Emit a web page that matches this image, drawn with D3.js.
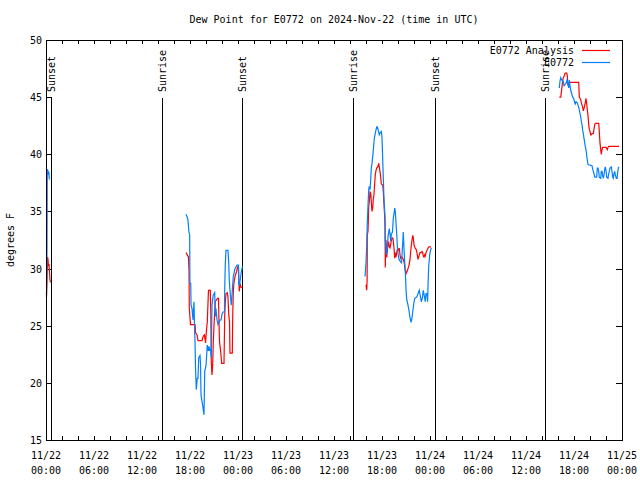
<!DOCTYPE html>
<html><head><meta charset="utf-8">
<script src="https://cdn.jsdelivr.net/npm/d3@7"></script>
<style>body{margin:0;background:#fff}svg{display:block}text{font-family:"DejaVu Sans Mono",monospace;font-size:10px;fill:#000}</style>
</head><body><svg id="c" width="640" height="480"></svg>
<script>
const title = "Dew Point for E0772 on 2024-Nov-22 (time in UTC)";
const yLabel = "degrees F";
const seriesNames = ["E0772 Analysis", "E0772"];
const seriesColors = ["#ff0000", "#0080ff"];
const startTime = "2024-11-22T00:00:00Z";
const endTime = "2024-11-25T00:00:00Z";
const yTicks = [15, 20, 25, 30, 35, 40, 45, 50];
const sunHours = [0.63, 14.54, 24.54, 38.41, 48.6, 62.41];
const sunLabels = ["Sunset", "Sunrise", "Sunset", "Sunrise", "Sunset", "Sunrise"];

// hours after 2024-11-22 00:00 UTC
const analysisHours = [0.06,0.13,0.19,0.25,0.31,0.38,0.44,0.5,0.56,
17.5,17.66,17.81,17.88,17.91,18.06,18.63,18.69,18.88,19.0,19.5,19.66,19.81,19.94,20.06,20.16,20.31,20.54,20.6,20.66,20.75,20.84,20.91,21.0,21.16,21.44,21.56,21.63,21.69,21.84,21.96,22.25,22.34,22.41,22.5,22.66,22.75,22.84,22.94,23.0,23.29,23.34,23.41,23.5,23.66,23.81,23.94,24.06,24.16,24.25,24.34,24.56,
40.0,40.09,40.14,40.16,40.25,40.34,40.41,40.5,40.59,40.66,40.75,40.84,40.91,41.0,41.09,41.16,41.25,41.34,41.46,41.59,41.66,41.75,41.84,41.91,42.09,42.16,42.25,42.34,42.38,42.41,42.5,42.59,42.66,42.75,42.84,42.91,43.0,43.13,43.25,43.38,43.5,43.59,43.66,43.75,43.88,44.0,44.09,44.16,44.25,44.34,44.41,44.5,44.59,44.66,44.75,44.84,44.91,45.04,45.16,45.25,45.38,45.5,45.59,45.66,45.75,45.84,45.91,46.0,46.13,46.25,46.34,46.41,46.5,46.59,46.66,46.75,46.88,47.0,47.09,47.16,47.25,47.34,47.41,47.5,47.63,47.75,47.88,48.13,
64.16,64.34,64.41,64.5,64.59,64.66,64.75,64.84,64.91,65.09,65.16,65.25,65.34,65.41,66.59,66.66,66.75,66.84,66.91,67.0,67.09,67.16,67.25,67.34,67.41,67.5,67.59,67.66,67.75,67.84,67.91,68.0,68.09,68.16,68.25,68.41,68.5,68.59,68.66,69.09,69.16,69.25,69.34,69.41,69.5,69.59,70.0,70.09,70.16,70.25,70.34,71.63];
const analysisDew = [27.5,29.0,31.0,30.8,30.2,30.4,29.6,29.0,28.8,
31.4,31.2,31.0,29.7,26.6,25.1,25.1,24.4,24.2,23.7,23.7,24.1,24.2,23.5,24.6,25.3,28.1,28.1,26.2,21.8,20.7,21.7,23.6,25.0,27.1,27.4,27.4,25.1,23.6,22.7,21.7,21.7,25.9,27.1,27.8,27.9,27.5,26.0,25.3,22.6,22.6,25.9,27.9,28.8,29.4,29.7,30.1,30.0,28.0,28.7,28.4,28.3,
28.6,28.1,29.0,32.9,33.3,35.4,35.8,36.7,36.6,35.9,35.0,35.3,36.1,36.5,37.5,38.2,38.6,38.8,38.9,39.2,38.9,38.5,38.0,37.4,37.3,36.8,35.6,34.5,33.6,30.1,32.5,31.0,31.5,32.2,32.3,31.9,31.8,32.3,32.7,32.6,31.8,30.9,31.4,31.0,31.6,31.7,31.6,31.8,31.2,30.9,31.0,31.0,30.9,30.8,30.6,30.2,29.8,29.6,29.8,30.0,30.3,30.8,31.5,32.0,32.5,32.9,32.7,32.1,31.8,31.7,31.5,31.2,30.8,31.0,31.2,31.4,31.4,31.5,31.4,31.1,31.0,31.2,31.1,31.4,31.6,31.8,31.9,31.9,
45.0,45.0,45.4,45.9,46.5,46.7,46.8,47.0,47.1,47.1,46.9,46.0,46.2,46.3,46.3,45.0,44.9,44.8,44.5,44.3,44.1,43.8,44.0,44.3,44.5,44.9,44.4,43.9,43.4,42.6,42.2,42.0,41.7,41.7,41.8,41.8,42.2,42.6,42.7,42.7,42.0,41.0,40.4,40.0,40.4,40.6,40.6,40.5,40.4,40.6,40.7,40.7];

const obsHours = [0.06,0.13,0.16,0.23,0.29,0.35,0.41,
17.5,17.66,17.75,17.88,17.96,17.99,18.09,18.13,18.25,18.38,18.44,18.5,18.56,18.63,18.69,18.79,18.91,19.0,19.09,19.25,19.31,19.38,19.59,19.75,19.84,20.0,20.16,20.29,20.38,20.46,20.56,20.66,20.7,20.75,20.91,21.09,21.16,21.25,21.38,21.5,21.63,21.75,21.88,22.0,22.13,22.31,22.34,22.41,22.5,22.75,22.84,22.91,23.04,23.16,23.25,23.41,23.63,23.88,24.06,24.09,24.19,24.31,24.41,24.56,
39.88,40.0,40.09,40.16,40.25,40.34,40.41,40.5,40.59,40.66,40.75,40.88,41.04,41.21,41.34,41.41,41.54,41.66,41.79,41.91,42.0,42.09,42.16,42.25,42.38,42.41,42.54,42.66,42.75,42.91,43.0,43.09,43.16,43.31,43.41,43.5,43.59,43.66,43.75,43.84,43.91,44.0,44.13,44.31,44.44,44.5,44.59,44.66,44.75,44.84,44.91,45.0,45.09,45.25,45.38,45.5,45.63,45.71,45.84,45.96,46.09,46.34,46.5,46.66,46.79,46.91,47.04,47.16,47.29,47.41,47.5,47.63,47.7,47.75,47.84,47.96,48.09,48.19,
64.16,64.25,64.34,64.46,64.59,64.66,64.75,64.88,65.0,65.13,65.25,65.34,65.41,65.5,65.59,65.71,65.84,65.96,66.09,66.16,66.25,66.41,66.5,66.63,66.71,66.84,66.91,67.0,67.09,67.16,67.25,67.34,67.41,67.5,67.59,67.66,67.75,68.25,68.34,68.5,68.59,68.84,68.91,69.0,69.09,69.16,69.34,69.41,69.5,69.59,69.66,69.75,69.84,69.91,70.0,70.09,70.25,70.34,70.41,70.5,70.66,70.75,70.84,70.91,71.0,71.09,71.16,71.29,71.38,71.46,71.54,71.63];
const obsDew = [27.7,32.0,38.7,38.6,38.2,38.5,37.8,
34.75,34.5,34.2,33.1,33.0,28.7,28.7,26.8,26.5,25.5,26.5,27.1,25.1,23.5,21.3,19.4,20.4,20.4,22.2,22.4,21.8,18.9,18.0,17.2,21.0,21.5,23.3,22.8,23.2,22.8,23.0,22.2,24.4,26.8,27.7,27.9,25.8,26.5,25.5,25.1,25.3,25.5,25.5,26.0,26.2,26.2,28.3,30.3,31.6,31.6,30.5,29.0,27.7,26.8,27.7,29.3,30.0,30.3,30.3,28.7,28.5,29.2,29.7,30.2,
29.3,30.5,32.0,34.0,35.5,36.9,37.2,36.9,37.8,38.8,39.2,40.1,41.4,42.0,42.4,42.4,42.1,41.7,41.9,42.0,41.5,39.5,38.0,36.0,34.5,32.5,31.2,31.5,32.8,33.5,33.0,32.4,33.0,33.2,34.4,34.8,35.3,35.0,34.0,33.0,32.0,31.3,30.8,30.6,30.5,31.2,32.2,33.2,31.8,30.5,29.8,28.2,27.3,26.8,26.3,25.7,25.3,25.5,26.2,26.9,27.4,27.5,27.8,28.1,27.6,27.1,27.4,28.1,27.6,27.1,27.8,27.8,27.1,28.5,30.2,31.2,31.7,31.8,
45.8,46.4,46.7,46.5,46.4,46.4,46.0,46.1,46.2,46.5,46.2,45.8,46.5,46.0,45.6,45.3,45.0,44.9,44.5,44.4,44.6,44.5,44.3,44.0,43.7,43.3,42.9,42.6,42.1,41.8,41.4,41.0,40.7,40.4,39.9,39.5,39.1,39.0,38.7,38.3,38.0,38.0,38.8,38.8,38.5,38.0,37.9,38.5,38.5,38.1,37.9,38.2,38.7,38.9,38.6,38.0,37.9,38.3,38.5,38.8,38.9,38.5,38.0,37.9,38.3,38.5,38.2,37.9,37.9,38.4,38.8,38.9];

const t0 = new Date(startTime);
const toDate = h => new Date(t0.getTime() + h * 3600000);

const svg = d3.select("#c");
const L = 46, R = 622, T = 40, B = 440;
const x = d3.scaleUtc().domain([t0, new Date(endTime)]).range([L, R]);
const y = d3.scaleLinear().domain([15, 50]).range([B, T]);

svg.append("text").attr("x", 334).attr("y", 23).attr("text-anchor", "middle").text(title);
svg.append("text").attr("transform", "translate(14,240) rotate(-90)").attr("text-anchor", "middle").text(yLabel);

// axes
const tickH = d3.utcHour.every(2).range(t0, new Date(new Date(endTime).getTime() + 1));
const g = svg.append("g").attr("stroke", "#000").attr("stroke-width", 1).attr("shape-rendering", "crispEdges");
tickH.forEach(d => {
  const px = Math.round(x(d)) + 0.5;
  g.append("line").attr("x1", px).attr("x2", px).attr("y1", B).attr("y2", B - 4);
  g.append("line").attr("x1", px).attr("x2", px).attr("y1", T).attr("y2", T + 4);
});
yTicks.forEach(v => {
  const py = Math.round(y(v)) + 0.5;
  g.append("line").attr("x1", L).attr("x2", L + 6).attr("y1", py).attr("y2", py);
  g.append("line").attr("x1", R).attr("x2", R - 6).attr("y1", py).attr("y2", py);
  svg.append("text").attr("x", 42).attr("y", py).attr("dy", "0.35em").attr("text-anchor", "end").text(v);
});
d3.utcHour.every(6).range(t0, new Date(new Date(endTime).getTime() + 1)).forEach(d => {
  const t = svg.append("text").attr("text-anchor", "middle");
  t.append("tspan").attr("x", x(d)).attr("y", 459).text(d3.utcFormat("%m/%d")(d));
  t.append("tspan").attr("x", x(d)).attr("y", 474).text(d3.utcFormat("%H:%M")(d));
});

// sun lines
sunHours.forEach((h, i) => {
  const px = Math.round(x(toDate(h))) + 0.5;
  g.append("line").attr("x1", px).attr("x2", px).attr("y1", 98).attr("y2", B);
  svg.append("text").attr("transform", `translate(${px},92) rotate(-90)`).attr("dy", "0.35em").text(sunLabels[i]);
});

function segments(hours, vals) {
  const segs = []; let cur = [];
  hours.forEach((h, i) => {
    if (i > 0 && h - hours[i - 1] > 4) { segs.push(cur); cur = []; }
    cur.push([toDate(h), vals[i]]);
  });
  segs.push(cur);
  return segs;
}
const line = d3.line().x(d => x(d[0])).y(d => y(d[1]));
[[analysisHours, analysisDew], [obsHours, obsDew]].forEach(([hs, vs], k) => {
  svg.append("g").selectAll("path").data(segments(hs, vs)).join("path")
    .attr("d", line).attr("fill", "none").attr("stroke", seriesColors[k]).attr("stroke-width", 1.2);
});

svg.append("rect").attr("x", L + 0.5).attr("y", T + 0.5).attr("width", R - L).attr("height", B - T)
  .attr("fill", "none").attr("stroke", "#000").attr("shape-rendering", "crispEdges");

// legend
seriesNames.forEach((n, i) => {
  const ly = 50 + i * 12;
  svg.append("text").attr("x", 574).attr("y", ly).attr("dy", "0.35em").attr("text-anchor", "end").text(n);
  svg.append("line").attr("x1", 582).attr("x2", 610).attr("y1", ly + 0.5).attr("y2", ly + 0.5)
    .attr("stroke", seriesColors[i]).attr("stroke-width", 1.2);
});
</script></body></html>
